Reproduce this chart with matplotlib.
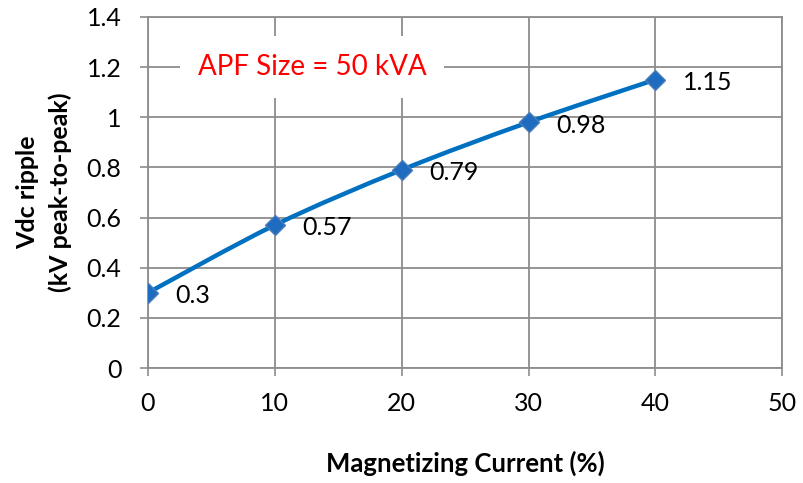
import matplotlib
matplotlib.use("Agg")
import matplotlib.pyplot as plt
from matplotlib.path import Path
from matplotlib.patches import PathPatch

plt.rcParams['font.family'] = ['Lato', 'DejaVu Sans']

# magnetizing current (%) vs dc-link voltage ripple (kV peak-to-peak)
current = [0, 10, 20, 30, 40]
ripple = [0.3, 0.57, 0.79, 0.98, 1.15]
ripple_labels = ["0.3", "0.57", "0.79", "0.98", "1.15"]

x_ticks = [0, 10, 20, 30, 40, 50]
y_ticks = [0, 0.2, 0.4, 0.6, 0.8, 1, 1.2, 1.4]
y_tick_labels = ["0", "0.2", "0.4", "0.6", "0.8", "1", "1.2", "1.4"]

line_color = "#0070C0"
grid_color = "#8C8C8C"

fig = plt.figure(figsize=(8.04, 4.83), dpi=100)
ax = fig.add_axes([0.184, 0.238, 0.789, 0.727])

# smoothed line: cubic Bezier segments through the points (Excel-style smoothing)
pts = list(zip(current, ripple))
verts = [pts[0]]
codes = [Path.MOVETO]
n = len(pts)
for i in range(n - 1):
    p0 = pts[i - 1] if i > 0 else pts[i]
    p1 = pts[i]
    p2 = pts[i + 1]
    p3 = pts[i + 2] if i + 2 < n else pts[i + 1]
    c1 = (p1[0] + (p2[0] - p0[0]) / 6, p1[1] + (p2[1] - p0[1]) / 6)
    c2 = (p2[0] - (p3[0] - p1[0]) / 6, p2[1] - (p3[1] - p1[1]) / 6)
    verts += [c1, c2, p2]
    codes += [Path.CURVE4] * 3
ax.add_patch(PathPatch(Path(verts, codes), facecolor="none", edgecolor=line_color,
                       lw=3.2, capstyle="round", zorder=3))

ax.plot(current, ripple, linestyle="none", marker="D", markersize=10,
        markerfacecolor="#1F6BBF", markeredgecolor="#4A7EBB", markeredgewidth=1, zorder=4)

for x, y, lab in zip(current, ripple, ripple_labels):
    ax.annotate(lab, (x, y), xytext=(20, -2), textcoords="offset points",
                ha="left", va="center", fontsize=18, color="black", zorder=5)

ax.text(12.93, 1.2, "APF Size = 50 kVA", color="#FF0000", fontsize=20,
        ha="center", va="center", zorder=2,
        bbox=dict(facecolor="white", edgecolor="none", pad=13))

ax.set_xlim(0, 50)
ax.set_ylim(0, 1.4)
ax.set_xticks(x_ticks)
ax.set_yticks(y_ticks)
ax.set_yticklabels(y_tick_labels)
ax.tick_params(axis="both", labelsize=18, length=6, width=1.2, color=grid_color,
               direction="out")
ax.tick_params(axis="x", pad=11)
ax.tick_params(axis="y", pad=13)
ax.grid(True, color=grid_color, lw=1.3)
ax.set_axisbelow(True)
for s in ax.spines.values():
    s.set_color(grid_color)
    s.set_linewidth(1.3)

ax.set_xlabel("Magnetizing Current (%)", fontsize=18.5, fontweight="bold")
ax.set_ylabel("Vdc ripple\n(kV peak-to-peak)", fontsize=18, fontweight="bold",
              linespacing=1.45)
ax.xaxis.set_label_coords(0.5, -0.235)
ax.yaxis.set_label_coords(-0.12, 0.5)

fig.savefig("out.png", dpi=100)
